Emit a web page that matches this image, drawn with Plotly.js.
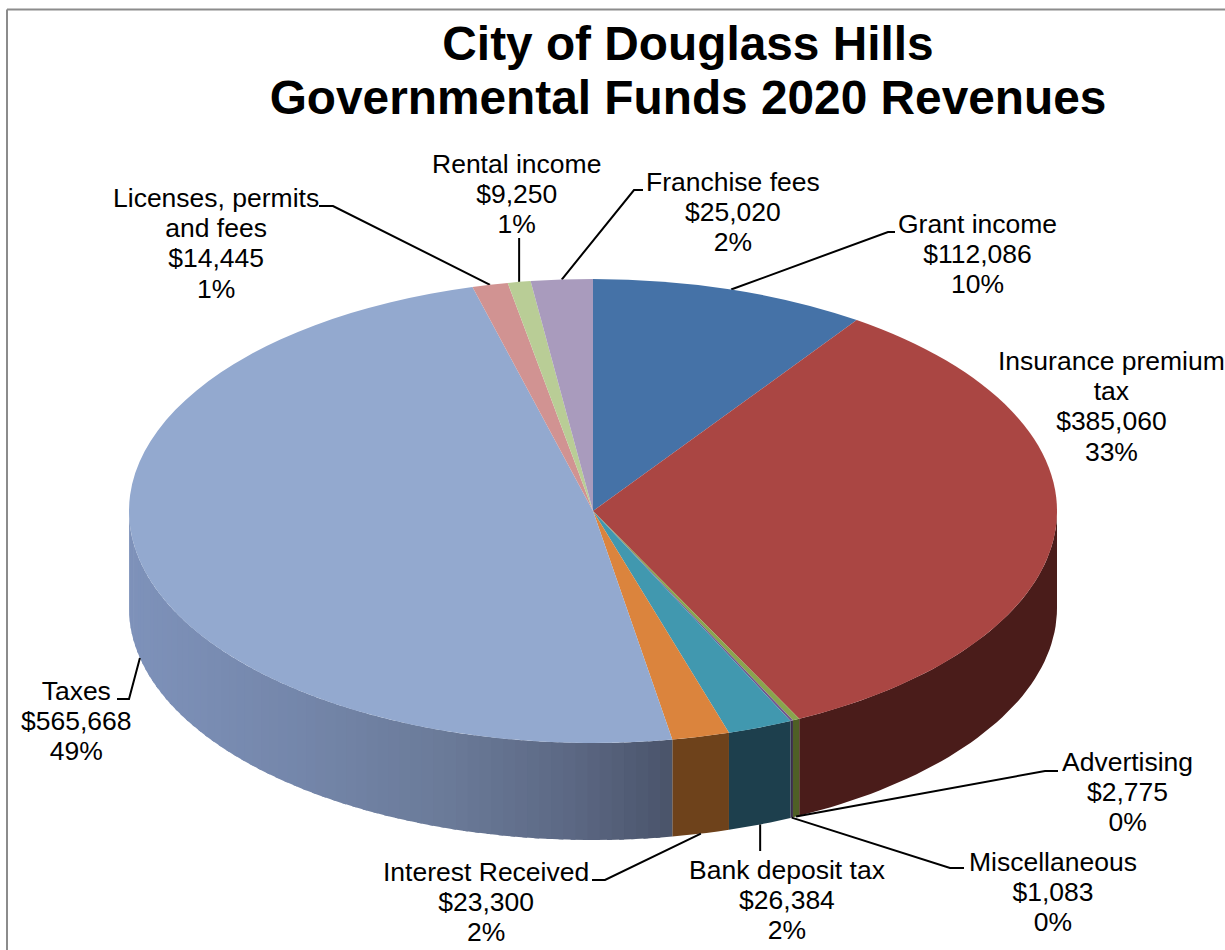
<!DOCTYPE html>
<html>
<head>
<meta charset="utf-8">
<script src="https://cdn.plot.ly/plotly-3.0.1.min.js"></script>
<style>html,body{margin:0;padding:0;background:#fff}#chart{width:1225px;height:950px}</style>
</head>
<body>
<div id="chart"></div>
<script>
// ---- data (clockwise from 12 o'clock) ----
const categories = ["Grant income","Insurance premium tax","Advertising","Miscellaneous","Bank deposit tax","Interest Received","Taxes","Licenses, permits and fees","Rental income","Franchise fees"];
const labelNames = ["Grant income","Insurance premium<br>tax","Advertising","Miscellaneous","Bank deposit tax","Interest Received","Taxes","Licenses, permits<br>and fees","Rental income","Franchise fees"];
const revenues = [112086,385060,2775,1083,26384,23300,565668,14445,9250,25020];
const topColors = ["#4572A7","#AA4643","#89A54E","#71588F","#4198AF","#DB843D","#93A9CF","#D19392","#B9CD96","#A99BBD"];
const sideColors = ["#2A4565","#4A1C1A","#4F5F26","#3A2D4A","#1D3F4D","#6E421B","#7D91B8","#7A5A5A","#70805A","#6A5F75"];
const titleLines = ["City of Douglass Hills","Governmental Funds 2020 Revenues"];

// ---- layout geometry ----
const cx = 593, cy = 511, rx = 464, ry = 232, depth = 97;
const W = 1225, H = 950;
const labelFirstLine = [[977,223],[1111,360],[1127,761],[1053,861],[787,869],[486,871],[76,690],[216,197],[516,163],[733,181]];
const labelLineEm = 1.14, titleLineEm = 1.13, labelTopOffset = 16;
const leaderBends = [
  [[888,232],[895,232]], null, [[1045,771],[1058,771]], [[950,868],[964,868]],
  [[null,851]], [[605,880],[592,880]], [[129,699],[117,699]], [[333,206],[319,206]],
  [[null,238]], [[634,190],[643,190]]
];
const taxGradient = [[129,[126,146,186]],[300,[116,134,170]],[450,[106,122,152]],[570,[92,104,132]],[672,[74,84,106]]];

const total = revenues.reduce((a,b)=>a+b,0);
const bounds = [0];
revenues.forEach((v,i)=>bounds.push(bounds[i]+v/total*360));
const rad = d => d*Math.PI/180;
const px = a => cx + rx*Math.sin(rad(a));
const py = (a,off=0) => cy - ry*Math.cos(rad(a)) + off;

function gradColor(x){
  for(let i=0;i<taxGradient.length-1;i++){
    const [x0,c0]=taxGradient[i],[x1,c1]=taxGradient[i+1];
    if(x<=x1){const t=Math.max(0,(x-x0)/(x1-x0));
      return 'rgb('+c0.map((c,j)=>Math.round(c+(c1[j]-c)*t)).join(',')+')';}
  }
  return 'rgb('+taxGradient[taxGradient.length-1][1].join(',')+')';
}

function wall(a0,a1,color){
  const xs=[],ys=[],n=Math.max(2,Math.ceil((a1-a0)/1.5));
  for(let k=0;k<=n;k++){const a=a0+(a1-a0)*k/n;xs.push(px(a));ys.push(py(a));}
  for(let k=n;k>=0;k--){const a=a0+(a1-a0)*k/n;xs.push(px(a));ys.push(py(a,depth));}
  xs.push(xs[0]);ys.push(ys[0]);
  return {type:'scatter',mode:'lines',x:xs,y:ys,fill:'toself',fillcolor:color,
    line:{color:color,width:0},hoverinfo:'skip',showlegend:false,xaxis:'x',yaxis:'y'};
}

const traces=[];
revenues.forEach((v,i)=>{
  const a0=Math.max(90,bounds[i]),a1=Math.min(270,bounds[i+1]);
  if(a1<=a0) return;
  if(categories[i]==='Taxes'){
    const step=1.5;
    for(let a=a0;a<a1;a+=step){
      const e=Math.min(a1,a+step+0.6);
      traces.push(wall(a,e,gradColor((px(a)+px(a+step))/2)));
    }
  } else traces.push(wall(a0,a1,sideColors[i]));
});

// leader lines: start on the pie edge at each slice's mid angle
revenues.forEach((v,i)=>{
  const bend=leaderBends[i];
  if(!bend) return;
  const mid=(bounds[i]+bounds[i+1])/2;
  const onFront=mid>90&&mid<270;
  const xs=[px(mid)],ys=[py(mid,onFront?depth:0)];
  bend.forEach(p=>{xs.push(p[0]===null?xs[0]:p[0]);ys.push(p[1]);});
  traces.push({type:'scatter',mode:'lines',x:xs,y:ys,line:{color:'#000',width:2},hoverinfo:'skip',showlegend:false,xaxis:'x',yaxis:'y'});
});

// top face
traces.push({type:'pie',labels:categories,values:revenues,sort:false,direction:'clockwise',rotation:0,
  marker:{colors:topColors,line:{width:0}},textinfo:'none',showlegend:false,hoverinfo:'label+value+percent',
  domain:{x:[(cx-rx)/W,(cx+rx)/W],y:[(H/2-rx)/H,(H/2+rx)/H]}});

const annotations=revenues.map((v,i)=>({
  xref:'x',yref:'y',x:labelFirstLine[i][0],y:labelFirstLine[i][1]-labelTopOffset,xanchor:'center',yanchor:'top',showarrow:false,
  text:labelNames[i]+'<br>$'+v.toLocaleString('en-US')+'<br>'+Math.round(v/total*100)+'%',
  font:{family:'"Liberation Sans",Arial,sans-serif',size:26.5,color:'#000'},align:'center'
}));

const layout={
  width:W,height:H,margin:{l:0,r:0,t:0,b:0,pad:0},paper_bgcolor:'#fff',plot_bgcolor:'rgba(0,0,0,0)',showlegend:false,
  title:{text:titleLines.join('<br>'),x:688/W,xref:'paper',xanchor:'center',y:1-60/H,yref:'container',yanchor:'top',pad:{t:0,b:0,l:0,r:0},
    font:{family:'"Liberation Sans",Arial,sans-serif',size:47.8,color:'#000',weight:700}},
  xaxis:{range:[0,W],visible:false,fixedrange:true},
  yaxis:{range:[H,0],visible:false,fixedrange:true},
  annotations:annotations,
  shapes:[
    {type:'line',xref:'x',yref:'y',x0:7,x1:W,y0:9.5,y1:9.5,line:{color:'#8c8c8c',width:2}},
    {type:'line',xref:'x',yref:'y',x0:7,x1:7,y0:9.5,y1:H,line:{color:'#8c8c8c',width:2}}
  ]
};

function tilt(gd){
  // lay the round pie down into the tilted ellipse of the reference
  const t='translate(0,'+cy+') scale(1,'+(ry/rx)+') translate(0,'+(-H/2)+')';
  gd.querySelectorAll('.pielayer').forEach(n=>n.setAttribute('transform',t));
  gd.querySelectorAll('.gtitle .line').forEach((n,i)=>n.setAttribute('dy',(i*titleLineEm)+'em'));
  gd.querySelectorAll('.annotation-text').forEach(txt=>{
    txt.querySelectorAll('.line').forEach((n,i)=>n.setAttribute('dy',(i*labelLineEm)+'em'));
  });
}
const gd=document.getElementById('chart');
Plotly.newPlot(gd,traces,layout,{displayModeBar:false}).then(()=>{
  tilt(gd);
  gd.on('plotly_afterplot',()=>tilt(gd));
});
</script>
</body>
</html>
